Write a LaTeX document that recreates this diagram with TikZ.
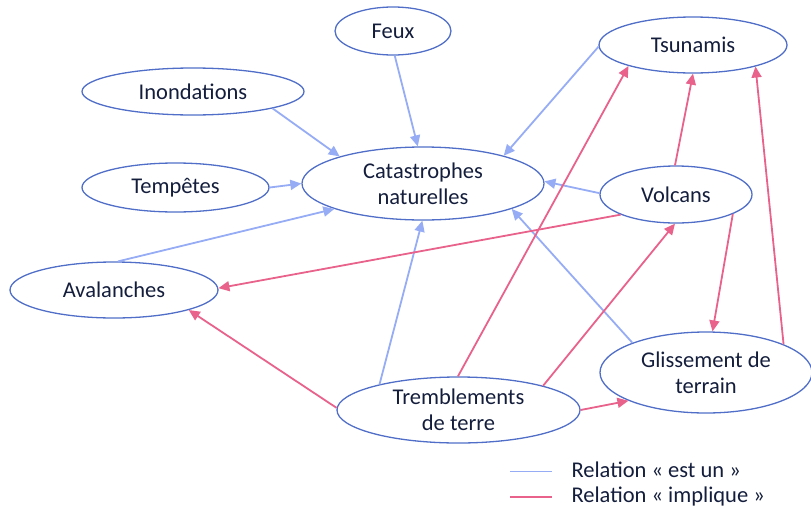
\documentclass[tikz,border=0pt]{standalone}
\usepackage{fontspec}
\setmainfont{Carlito}
\usetikzlibrary{shapes.geometric,arrows.meta}
\definecolor{ringblue}{RGB}{80,110,200}
\definecolor{isablue}{RGB}{150,172,245}
\definecolor{implpink}{RGB}{232,98,140}
\definecolor{labelink}{RGB}{20,30,60}
\tikzset{
  concept/.style={ellipse,draw=ringblue,line width=1.3pt,inner sep=0pt,
    text=labelink,align=center,font=\fontsize{22.5}{26}\selectfont},
  isa/.style={draw=isablue,line width=1.8pt,
    -{Triangle[length=11pt,width=10pt,fill=isablue]}},
  implies/.style={draw=implpink,line width=1.8pt,
    -{Triangle[length=11pt,width=10pt,fill=implpink]}},
  legendtext/.style={anchor=west,text=labelink,font=\fontsize{22.5}{26}\selectfont}
}
\begin{document}
\begin{tikzpicture}[x=1pt,y=-1pt]
\useasboundingbox (0,0) rectangle (811,509);

% concepts
\node[concept,minimum width=116pt,minimum height=48pt] (feux) at (393,31) {Feux};
\node[concept,minimum width=222pt,minimum height=47pt] (inon) at (193,91.5) {Inondations};
\node[concept,minimum width=187pt,minimum height=49pt] (temp) at (175.5,187.5) {Tempêtes};
\node[concept,minimum width=242pt,minimum height=73pt] (cat) at (423,183.5) {Catastrophes\\naturelles};
\node[concept,minimum width=188pt,minimum height=56pt] (tsu) at (693,45) {Tsunamis};
\node[concept,minimum width=152pt,minimum height=57pt] (volc) at (676,194.5) {Volcans};
\node[concept,minimum width=208pt,minimum height=56pt] (aval) at (114,290) {Avalanches};
\node[concept,minimum width=243pt,minimum height=66pt] (trem) at (458.5,410) {Tremblements\\de terre};
\node[concept,minimum width=212pt,minimum height=81pt] (gliss) at (706,372.5) {Glissement de\\terrain};

% "est un" relations
\draw[isa] (feux.-86) -- (cat.98);
\draw[isa] (inon.-12) -- (cat.162);
\draw[isa] (temp.0) -- (cat.180);
\draw[isa] (aval.82) -- (cat.196);
\draw[isa] (tsu.181) -- (cat.19);
\draw[isa] (volc.179) -- (cat.1);
\draw[isa] (trem.162) -- (cat.-91);
\draw[isa] (gliss.158) -- (cat.-16);

% "implique" relations
\draw[implies] (volc.92) -- (tsu.-90);
\draw[implies] (volc.200) -- (aval.1);
\draw[implies] (volc.-19) -- (gliss.81);
\draw[implies] (gliss.20) -- (tsu.-19);
\draw[implies] (trem.91) -- (tsu.198);
\draw[implies] (trem.16) -- (volc.-92);
\draw[implies] (trem.0) -- (gliss.200);
\draw[implies] (trem.179) -- (aval.-15);

% legend
\coordinate (isaA) at (510,471);
\coordinate (isaB) at (552,471);
\coordinate (impA) at (510,497);
\coordinate (impB) at (552,497);
\draw[isablue,line width=1pt] (isaA) -- (isaB);
\draw[implpink,line width=1.4pt] (impA) -- (impB);
\node[legendtext] (legisa) at (568,470) {Relation « est un »};
\node[legendtext] (legimp) at (568,496) {Relation « implique »};
\end{tikzpicture}
\end{document}
